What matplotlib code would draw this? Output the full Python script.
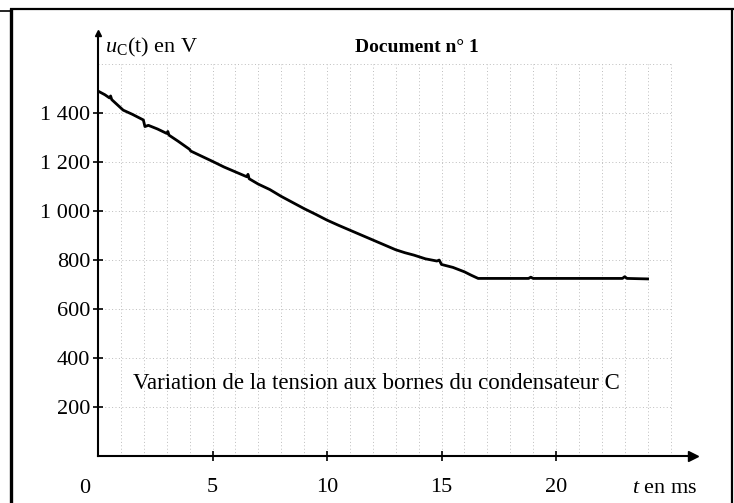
import matplotlib
matplotlib.use("Agg")
import matplotlib.pyplot as plt
from matplotlib.lines import Line2D
import numpy as np

plt.rcParams['font.family'] = ['Liberation Serif', 'DejaVu Serif']
plt.rcParams['mathtext.fontset'] = 'custom'
plt.rcParams['mathtext.rm'] = 'Liberation Serif'
plt.rcParams['mathtext.it'] = 'Liberation Serif:italic'

# Data (t in ms, u in V)
t_ms = [0, 0.3, 0.5, 0.55, 0.6, 1.1, 1.5, 1.98, 2.05, 2.2, 2.6, 3.0, 3.05, 3.1, 3.5,
        4.0, 4.05, 4.5, 5.0, 5.5, 6.0, 6.5, 6.55, 6.6, 7.0, 7.5, 8.0, 8.5, 9.0, 9.5,
        10.0, 10.5, 11.0, 11.5, 12.0, 12.5, 13.0, 13.4, 13.8, 14.3, 14.8, 14.9, 15.0,
        15.5, 16.0, 16.3, 16.6, 18.8, 18.9, 19.0, 22.9, 23.0, 23.1, 24.0]
u_V = [1490, 1475, 1462, 1470, 1455, 1412, 1395, 1372, 1345, 1350, 1335, 1317, 1325, 1310, 1285,
       1252, 1245, 1225, 1203, 1180, 1160, 1140, 1150, 1132, 1110, 1088, 1060, 1035, 1010, 987,
       963, 942, 922, 902, 882, 862, 842, 830, 820, 805, 796, 800, 782,
       770, 752, 738, 725, 725, 730, 725, 725, 732, 725, 723]

x_ticks = [5, 10, 15, 20]
y_ticks = [200, 400, 600, 800, 1000, 1200, 1400]
y_tick_labels = ["200", "400", "600", "800", "1 000", "1 200", "1 400"]

W, H = 734, 503
fig = plt.figure(figsize=(W / 100, H / 100), dpi=100)

# axes geometry in pixels
x0, y0 = 98, 456
x1, y1 = 693.4, 33
ax = fig.add_axes([x0 / W, 1 - y0 / H, (x1 - x0) / W, (y0 - y1) / H])
ax.set_xlim(0, 26)
ax.set_ylim(0, 1727)

# grid
ax.vlines(np.arange(1, 26), 0, 1600, colors='#bdbdbd', linestyles=(0, (1, 2.5)), lw=0.7, zorder=1)
ax.hlines(np.arange(200, 1601, 200), 0, 25, colors='#bdbdbd', linestyles=(0, (1, 2.5)), lw=0.7, zorder=1)

ax.plot(t_ms, u_V, color='black', lw=2.0, zorder=3, solid_joinstyle='round')

for s in ['top', 'right']:
    ax.spines[s].set_visible(False)
for s in ['left', 'bottom']:
    ax.spines[s].set_linewidth(1.5)
ax.plot(1, 0, '>', color='black', ms=7, transform=ax.transAxes, clip_on=False)
ax.plot(0, 1, '^', color='black', ms=5, transform=ax.transAxes, clip_on=False)

ax.set_xticks(x_ticks)
ax.set_xticklabels([str(v) for v in x_ticks], fontsize=16)
ax.set_yticks(y_ticks)
ax.set_yticklabels(y_tick_labels, fontsize=16)
ax.tick_params(axis='both', direction='inout', length=7, width=1.2)
ax.tick_params(axis='x', pad=12)
ax.tick_params(axis='y', pad=2)

ax.text(-0.57, -0.076, "0", transform=ax.get_xaxis_transform(), fontsize=16,
        ha='center', va='center')

ax.text(0.012, 0.992, r"$u_{\mathrm{C}}$(t) en V", transform=ax.transAxes, fontsize=16,
        ha='left', va='top')
ax.text(0.535, 0.985, "Document n° 1", transform=ax.transAxes, fontsize=14,
        fontweight='bold', ha='center', va='top')
ax.text(0.952, -0.076, r"$t$ en ms", transform=ax.transAxes, fontsize=16,
        ha='center', va='center')
ax.text(0.468, 0.172, "Variation de la tension aux bornes du condensateur C",
        transform=ax.transAxes, fontsize=16.5, ha='center', va='center')

# frame of the document
def px_line(xs, ys, lw):
    fig.add_artist(Line2D([x / W for x in xs], [1 - y / H for y in ys],
                          transform=fig.transFigure, color='black', lw=lw,
                          solid_capstyle='butt'))

px_line([10, 734], [8.5, 8.5], 1.6)
px_line([11, 11], [8, 503], 2.4)
px_line([731.5, 731.5], [8, 503], 1.6)
px_line([0, 10], [11, 11], 1.2)

fig.savefig("out.png", dpi=100)
